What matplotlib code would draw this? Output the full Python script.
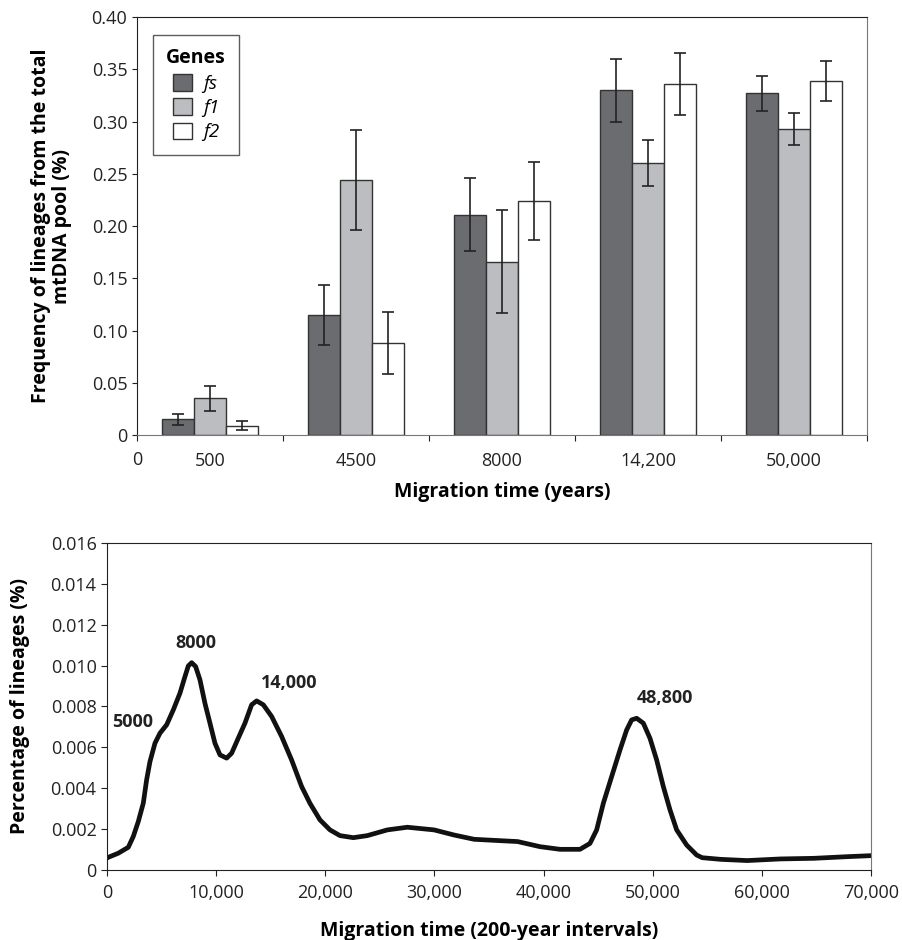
import matplotlib.pyplot as plt
import numpy as np

plt.rcParams['font.family'] = ['Open Sans', 'DejaVu Sans']

# top panel: lineage frequency by gene
periods = ['500', '4500', '8000', '14,200', '50,000']
genes = ['fs', 'f1', 'f2']
fs_vals = [0.015, 0.115, 0.211, 0.330, 0.327]
fs_err = [0.005, 0.029, 0.035, 0.030, 0.017]
f1_vals = [0.035, 0.244, 0.166, 0.260, 0.293]
f1_err = [0.012, 0.048, 0.049, 0.022, 0.015]
f2_vals = [0.009, 0.088, 0.224, 0.336, 0.339]
f2_err = [0.004, 0.030, 0.037, 0.030, 0.019]
gene_colors = ['#6b6c70', '#bcbdc1', '#ffffff']

# bottom panel: distribution curve
time_x = [0, 122, 1038, 1954, 2412, 2870, 3328, 3633, 3939, 4397, 4855, 5466,
          6077, 6688, 7146, 7451, 7757, 8123, 8520, 8978, 9436, 9894, 10352,
          10963, 11421, 12032, 12643, 13254, 13712, 14323, 15086, 16002,
          16918, 17835, 18600, 19516, 20432, 21349, 22570, 23850, 25690,
          27520, 29970, 31800, 33640, 35780, 37620, 39674, 41506, 43339,
          44255, 44866, 45477, 46241, 47004, 47615, 48073, 48531, 49142,
          49753, 50364, 50975, 51586, 52197, 53113, 54030, 54540, 56220,
          58660, 61710, 64760, 67800, 70000]
pct = [0.00058, 0.00062, 0.00082, 0.00111, 0.00164, 0.00237, 0.00327, 0.00441,
       0.0053, 0.0062, 0.00669, 0.0071, 0.00783, 0.00865, 0.00946, 0.00998,
       0.01014, 0.00995, 0.0093, 0.00815, 0.00718, 0.0062, 0.00563, 0.00547,
       0.00571, 0.00645, 0.00718, 0.00808, 0.00827, 0.00808, 0.00751, 0.00653,
       0.00538, 0.00408, 0.00326, 0.00245, 0.00196, 0.00168, 0.00158, 0.00168,
       0.00196, 0.00209, 0.00196, 0.00171, 0.0015, 0.00144, 0.00139, 0.00114,
       0.00101, 0.00101, 0.0013, 0.00196, 0.00326, 0.00457, 0.00587, 0.00685,
       0.00734, 0.00742, 0.00718, 0.00644, 0.00538, 0.00408, 0.00294, 0.00196,
       0.00122, 0.00073, 0.0006, 0.00052, 0.00046, 0.00054, 0.00057, 0.00065,
       0.0007]
peak_labels = ['5000', '8000', '14,000', '48,800']
peak_x = [2380, 8150, 16680, 51130]
peak_y = [0.00724, 0.0111, 0.00915, 0.00842]

fig = plt.figure(figsize=(9.02, 9.40), dpi=100)

# ---- top chart ----
ax1 = fig.add_axes([0.1519, 0.5372, 0.8093, 0.4447])
x = np.arange(len(periods))
w = 0.22
vals = [fs_vals, f1_vals, f2_vals]
errs = [fs_err, f1_err, f2_err]
for i in range(3):
    ax1.bar(x + (i - 1) * w, vals[i], w, yerr=errs[i], color=gene_colors[i],
            edgecolor='#333333', linewidth=1, label=genes[i],
            error_kw=dict(ecolor='#222222', elinewidth=1.2, capsize=4, capthick=1.2))
ax1.set_xlim(-0.5, len(periods) - 0.5)
ax1.set_ylim(0, 0.40)
ax1.set_yticks(np.arange(0, 0.401, 0.05))
ax1.set_yticklabels(['0'] + ['%.2f' % v for v in np.arange(0.05, 0.401, 0.05)])
ax1.set_xticks(np.arange(-0.5, len(periods), 1))
ax1.set_xticklabels([])
ax1.set_xticks(x, minor=True)
ax1.set_xticklabels(periods, minor=True)
ax1.tick_params(axis='x', which='minor', length=0, pad=12)
ax1.tick_params(axis='x', which='major', length=4, color='#555555')
ax1.tick_params(which='both', labelsize=13, colors='#222222')
ax1.text(-0.5, -0.0155, '0', ha='center', va='top', fontsize=13, color='#222222')
ax1.set_xlabel('Migration time (years)', fontsize=14, fontweight='bold', labelpad=9)
ax1.set_ylabel('Frequency of lineages from the total\nmtDNA pool (%)',
               fontsize=14, fontweight='bold', labelpad=14, linespacing=1.05)
for s in ['top', 'left']:
    ax1.spines[s].set_color('#222222')
for s in ['right', 'bottom']:
    ax1.spines[s].set_color('#777777')
leg = ax1.legend(title='Genes', loc='upper left', bbox_to_anchor=(0.022, 0.957),
                 borderaxespad=0, fancybox=False, edgecolor='#333333', fontsize=13.5,
                 handlelength=1.0, handleheight=1.0, borderpad=0.7,
                 labelspacing=0.3, handletextpad=0.6, alignment='center')
leg.get_title().set_fontweight('bold')
leg.get_title().set_fontsize(14)
for t in leg.get_texts():
    t.set_style('italic')
leg.get_frame().set_linewidth(1)

# ---- bottom chart ----
ax2 = fig.add_axes([0.1186, 0.0745, 0.847, 0.348])
ax2.plot(time_x, pct, color='#111111', linewidth=3.4, solid_capstyle='round',
         solid_joinstyle='round')
ax2.set_xlim(0, 70000)
ax2.set_ylim(0, 0.016)
ax2.set_xticks(np.arange(0, 70001, 10000))
ax2.set_xticklabels(['0'] + ['{:,}'.format(v) for v in range(10000, 70001, 10000)])
ax2.set_yticks(np.arange(0, 0.0161, 0.002))
ax2.set_yticklabels(['0'] + ['%.3f' % v for v in np.arange(0.002, 0.0161, 0.002)])
ax2.tick_params(labelsize=13, colors='#222222', length=4)
ax2.tick_params(axis='x', pad=6)
for lab, px, py in zip(peak_labels, peak_x, peak_y):
    ax2.text(px, py, lab, ha='center', va='center', fontsize=13,
             fontweight='bold', color='#222222')
ax2.set_xlabel('Migration time (200-year intervals)', fontsize=14,
               fontweight='bold', labelpad=14)
ax2.set_ylabel('Percentage of lineages (%)', fontsize=14, fontweight='bold',
               labelpad=15)
for s in ['top', 'left', 'bottom']:
    ax2.spines[s].set_color('#222222')
ax2.spines['right'].set_color('#777777')

fig.savefig('out.png', dpi=100)
